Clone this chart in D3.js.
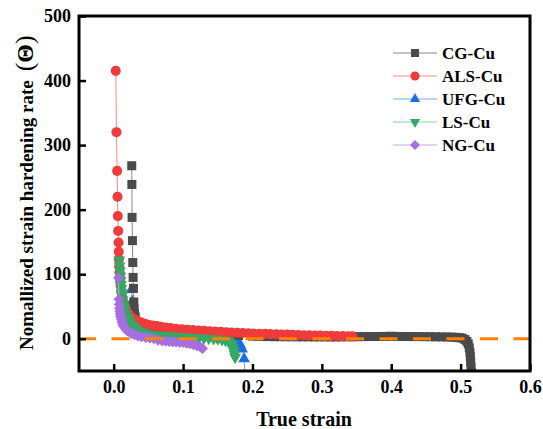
<!DOCTYPE html>
<html>
<head>
<meta charset="utf-8">
<script src="https://cdn.jsdelivr.net/npm/d3@7"></script>
<style>
  body { margin: 0; background: #fff; }
  text { font-family: "Liberation Serif", "Times New Roman", serif; font-weight: bold; }
</style>
</head>
<body>
<svg id="chart" width="543" height="429"></svg>
<script>
// strain, normalized hardening rate
var cgCu = [
  [0.026,268],[0.0262,239],[0.0265,188],[0.027,152],[0.0275,118],[0.028,95],[0.0285,78],[0.029,57],
  [0.0295,46],[0.030,39],[0.031,33],[0.033,27],[0.035,22],[0.038,18],[0.042,15],[0.047,12.5],[0.055,10.5],
  [0.065,9],[0.08,8],[0.1,7],[0.12,6.5],[0.14,6],[0.16,5.5],[0.18,5],[0.2,4],[0.208,3.6],[0.216,3.4],
  [0.224,3.3],[0.232,3.2],[0.24,3.2],[0.248,3.1],[0.256,3.1],[0.264,3],[0.272,3],[0.28,3],[0.288,2.9],
  [0.296,2.9],[0.304,2.9],[0.312,2.8],[0.32,2.8],[0.328,2.9],[0.336,3],[0.344,3.1],[0.352,3.2],[0.36,3.3],
  [0.368,3.4],[0.376,3.4],[0.384,3.5],[0.392,3.6],[0.4,3.8],[0.408,3.6],[0.416,3.4],[0.424,3.4],[0.432,3.3],
  [0.44,3.3],[0.448,3.2],[0.456,3.1],[0.464,3],[0.472,2.9],[0.48,2.7],[0.487,2.5],[0.493,2.2],[0.498,1.7],
  [0.502,1],[0.506,-1],[0.509,-4],[0.511,-8],[0.5125,-14],[0.5135,-21],[0.514,-28],[0.5145,-36],[0.515,-44],
  [0.5155,-52],[0.516,-60]
];
var alsCu = [
  [0.003,415],[0.004,320],[0.005,260],[0.0055,220],[0.006,190],[0.0065,167],[0.007,149],[0.0072,135],[0.0075,123],
  [0.008,112],[0.0085,103],[0.009,95],[0.0095,88],[0.01,82],[0.011,73],[0.012,66],[0.013,60],[0.014,55],
  [0.015,51],[0.017,46],[0.019,42],[0.021,39],[0.023,36],[0.025,34],[0.028,31],[0.031,29],[0.035,27],
  [0.04,25],[0.045,23],[0.05,21.5],[0.056,20.5],[0.062,19.5],[0.068,18.5],[0.075,17.5],[0.082,16.5],
  [0.09,15.5],[0.098,14.5],[0.106,14],[0.114,13.3],[0.122,12.7],[0.13,12.1],[0.138,11.6],[0.146,11.1],
  [0.154,10.6],[0.162,10.1],[0.17,9.7],[0.178,9.3],[0.186,8.9],[0.194,8.5],[0.202,8.1],[0.21,7.8],
  [0.218,7.5],[0.226,7.2],[0.234,6.9],[0.242,6.6],[0.25,6.3],[0.258,6],[0.266,5.7],[0.274,5.4],[0.282,5.2],
  [0.29,5],[0.298,4.8],[0.306,4.6],[0.314,4.4],[0.322,4.2],[0.33,4],[0.338,3.8],[0.344,3.6]
];
var ufgCu = [
  [0.0255,76],[0.027,58],[0.029,45],[0.031,35],[0.034,27],[0.038,20],[0.043,15],[0.05,12],[0.058,10],
  [0.066,9],[0.074,8],[0.082,7.5],[0.09,7],[0.1,6.5],[0.11,6],[0.12,5.5],[0.13,5],[0.14,4.5],[0.15,4],
  [0.16,3],[0.168,1.5],[0.174,0],[0.178,-3],[0.181,-7],[0.183,-11],[0.185,-16],[0.188,-31],[0.19,-75]
];
var lsCu = [
  [0.008,122],[0.0085,113],[0.009,105],[0.0095,97],[0.01,90],[0.0105,84],[0.011,78],[0.0115,72],[0.012,67],
  [0.013,60],[0.014,54],[0.015,49],[0.016,44],[0.018,38],[0.02,33],[0.022,29],[0.024,25],[0.027,21],
  [0.03,17],[0.034,14],[0.038,11.5],[0.043,9.5],[0.048,8],[0.054,7],[0.06,6],[0.067,5.5],[0.074,5],
  [0.081,4.5],[0.088,4],[0.095,3.5],[0.102,3],[0.109,2.5],[0.116,2],[0.123,1.5],[0.13,1],[0.137,0.5],
  [0.144,0],[0.15,-0.5],[0.156,-1.5],[0.161,-2.5],[0.165,-4],[0.168,-6],[0.17,-9],[0.172,-14],[0.173,-19],
  [0.174,-24],[0.175,-29]
];
var ngCu = [
  [0.007,94],[0.0075,61],[0.008,53],[0.0085,47],[0.009,42],[0.0095,38],[0.01,34],[0.011,30],[0.012,26],
  [0.013,23],[0.014,20],[0.016,17],[0.018,14],[0.02,12],[0.023,10],[0.026,8],[0.03,6],[0.035,4],[0.04,3],
  [0.046,2],[0.052,1],[0.058,0],[0.064,-2.5],[0.07,-3.5],[0.075,-4],[0.08,-4.5],[0.085,-4.8],[0.09,-5],
  [0.095,-5.5],[0.1,-6],[0.105,-7],[0.11,-8],[0.115,-9.5],[0.12,-11],[0.125,-13],[0.128,-15]
];

var seriesNames = ["CG-Cu", "ALS-Cu", "UFG-Cu", "LS-Cu", "NG-Cu"];
var xTicks = [0, 0.1, 0.2, 0.3, 0.4, 0.5, 0.6];
var yTicks = [0, 100, 200, 300, 400, 500];

var series = [
  {name: seriesNames[0], data: cgCu,  color: "#4a4a4a", line: "#8a8a8a", shape: d3.symbolSquare,   size: 81, key: 64, rot: 0},
  {name: seriesNames[1], data: alsCu, color: "#ef3b3b", line: "#f48a8a", shape: d3.symbolCircle,   size: 80, key: 66, rot: 0},
  {name: seriesNames[2], data: ufgCu, color: "#1c6fe0", line: "#76a8f0", shape: d3.symbolTriangle, size: 60, key: 46, rot: 0},
  {name: seriesNames[3], data: lsCu,  color: "#36a865", line: "#86d2a4", shape: d3.symbolTriangle, size: 60, key: 46, rot: 180},
  {name: seriesNames[4], data: ngCu,  color: "#a66ee0", line: "#cba6f2", shape: d3.symbolSquare,   size: 60, key: 48, rot: 45}
];
// stacking seen in the picture: blue sits under the gray squares
var drawOrder = [2, 0, 1, 3, 4];

var svg = d3.select("#chart"),
    plotLeft = 79, plotRight = 530, plotTop = 16, plotBottom = 371;

var x = d3.scaleLinear().domain([-0.05, 0.6]).range([plotLeft, plotRight]);
var y = d3.scaleLinear().domain([-50, 500]).range([plotBottom, plotTop]);

svg.append("clipPath").attr("id", "plot-clip")
  .append("rect")
    .attr("x", plotLeft).attr("y", plotTop)
    .attr("width", plotRight - plotLeft).attr("height", plotBottom - plotTop);

var plot = svg.append("g").attr("clip-path", "url(#plot-clip)");

var line = d3.line()
    .x(function(d) { return x(d[0]); })
    .y(function(d) { return y(d[1]); });

drawOrder.forEach(function(i) {
  var s = series[i];
  var g = plot.append("g");
  g.append("path")
    .attr("d", line(s.data))
    .attr("fill", "none")
    .attr("stroke", s.line)
    .attr("stroke-width", 1);
  g.selectAll("path.mark")
    .data(s.data)
    .enter()
    .append("path")
      .attr("class", "mark")
      .attr("d", d3.symbol().type(s.shape).size(s.size))
      .attr("fill", s.color)
      .attr("transform", function(d) {
        return "translate(" + x(d[0]) + "," + y(d[1]) + ") rotate(" + s.rot + ")";
      });
});

// zero reference line
svg.append("line")
  .attr("x1", 78).attr("x2", plotRight)
  .attr("y1", y(0)).attr("y2", y(0))
  .attr("stroke", "#ff8205")
  .attr("stroke-width", 3)
  .attr("stroke-dasharray", "18,15.5");

// axes
var xAxis = d3.axisBottom(x).tickValues(xTicks).tickFormat(d3.format(".1f"))
    .tickSizeInner(-7).tickSizeOuter(0).tickPadding(9);
var yAxis = d3.axisLeft(y).tickValues(yTicks).tickFormat(d3.format("d"))
    .tickSizeInner(-7).tickSizeOuter(0).tickPadding(8);

var gx = svg.append("g").attr("transform", "translate(0," + plotBottom + ")").call(xAxis);
var gy = svg.append("g").attr("transform", "translate(" + plotLeft + ",0)").call(yAxis);

[gx, gy].forEach(function(g) {
  g.select(".domain").remove();
  g.selectAll(".tick line").attr("stroke", "#000").attr("stroke-width", 2.5);
  g.selectAll(".tick text")
    .attr("fill", "#000")
    .style("font-size", "18px")
    .style("font-family", "'Liberation Serif', serif")
    .style("font-weight", "bold");
});

svg.append("rect")
  .attr("x", plotLeft).attr("y", plotTop)
  .attr("width", plotRight - plotLeft).attr("height", plotBottom - plotTop)
  .attr("fill", "none")
  .attr("stroke", "#000")
  .attr("stroke-width", 3);

// titles
svg.append("text")
  .attr("x", 304).attr("y", 426)
  .attr("text-anchor", "middle")
  .style("font-size", "20px")
  .text("True strain");

var yt = svg.append("text")
  .attr("transform", "translate(33,350) rotate(-90)")
  .style("font-size", "19px")
  .text("Nomallized strain hardening rate");
yt.append("tspan")
  .attr("dx", 9)
  .style("font-size", "26px")
  .style("font-weight", "normal")
  .text("(");
yt.append("tspan")
  .style("font-size", "24px")
  .text("Θ");
yt.append("tspan")
  .style("font-size", "26px")
  .style("font-weight", "normal")
  .text(")");

// legend
var legend = svg.append("g");
series.forEach(function(s, i) {
  var ly = 53 + i * 23;
  legend.append("line")
    .attr("x1", 393).attr("x2", 437)
    .attr("y1", ly).attr("y2", ly)
    .attr("stroke", s.line)
    .attr("stroke-width", 1.2);
  legend.append("path")
    .attr("d", d3.symbol().type(s.shape).size(s.key))
    .attr("fill", s.color)
    .attr("transform", "translate(415," + ly + ") rotate(" + s.rot + ")");
  legend.append("text")
    .attr("x", 442).attr("y", ly + 6)
    .style("font-size", "17px")
    .text(s.name);
});
</script>
</body>
</html>
